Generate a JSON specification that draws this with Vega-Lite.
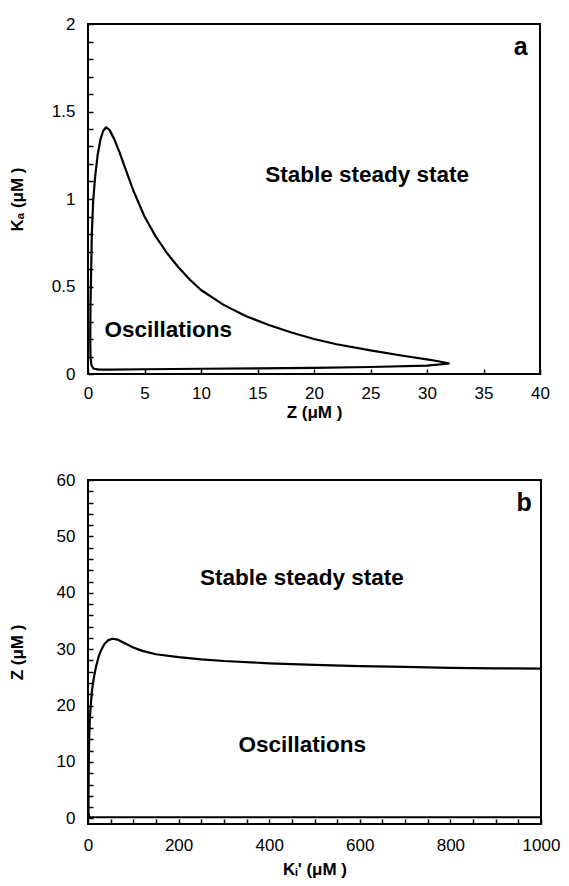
{
  "$schema": "https://vega.github.io/schema/vega-lite/v6.json",
  "background": "white",
  "padding": {"left": 7, "top": 14, "right": 5, "bottom": 5},
  "spacing": 106,
  "bounds": "flush",
  "datasets": {
    "curveA": [
      {"i": 1, "Z": 32, "KA": 0.06},
      {"i": 2, "Z": 30, "KA": 0.048},
      {"i": 3, "Z": 25, "KA": 0.04},
      {"i": 4, "Z": 20, "KA": 0.035},
      {"i": 5, "Z": 15, "KA": 0.032},
      {"i": 6, "Z": 10, "KA": 0.03},
      {"i": 7, "Z": 5, "KA": 0.027},
      {"i": 8, "Z": 2, "KA": 0.025},
      {"i": 9, "Z": 1, "KA": 0.025},
      {"i": 10, "Z": 0.5, "KA": 0.03},
      {"i": 11, "Z": 0.3, "KA": 0.05},
      {"i": 12, "Z": 0.22, "KA": 0.1},
      {"i": 13, "Z": 0.2, "KA": 0.2},
      {"i": 14, "Z": 0.22, "KA": 0.4},
      {"i": 15, "Z": 0.28, "KA": 0.6},
      {"i": 16, "Z": 0.34, "KA": 0.8},
      {"i": 17, "Z": 0.45, "KA": 0.98},
      {"i": 18, "Z": 0.62, "KA": 1.12},
      {"i": 19, "Z": 0.85, "KA": 1.25},
      {"i": 20, "Z": 1.1, "KA": 1.34},
      {"i": 21, "Z": 1.35, "KA": 1.39},
      {"i": 22, "Z": 1.6, "KA": 1.41},
      {"i": 23, "Z": 1.9, "KA": 1.395},
      {"i": 24, "Z": 2.3, "KA": 1.345},
      {"i": 25, "Z": 2.8, "KA": 1.265},
      {"i": 26, "Z": 3.3, "KA": 1.175},
      {"i": 27, "Z": 4, "KA": 1.05},
      {"i": 28, "Z": 5, "KA": 0.9},
      {"i": 29, "Z": 6, "KA": 0.785},
      {"i": 30, "Z": 7, "KA": 0.69},
      {"i": 31, "Z": 8, "KA": 0.61},
      {"i": 32, "Z": 9, "KA": 0.54},
      {"i": 33, "Z": 10, "KA": 0.48},
      {"i": 34, "Z": 12, "KA": 0.395},
      {"i": 35, "Z": 14, "KA": 0.33},
      {"i": 36, "Z": 16, "KA": 0.28},
      {"i": 37, "Z": 18, "KA": 0.237},
      {"i": 38, "Z": 20, "KA": 0.2},
      {"i": 39, "Z": 22, "KA": 0.17},
      {"i": 40, "Z": 25, "KA": 0.135},
      {"i": 41, "Z": 28, "KA": 0.103},
      {"i": 42, "Z": 30, "KA": 0.084},
      {"i": 43, "Z": 31, "KA": 0.073},
      {"i": 44, "Z": 32, "KA": 0.06}
    ],
    "textA": [
      {"Z": 24.7, "KA": 1.14, "label": "Stable steady state"},
      {"Z": 7.1, "KA": 0.25, "label": "Oscillations"}
    ],
    "tagA": [{"Z": 38.3, "KA": 1.87, "label": "a"}],
    "curveB": [
      {"i": 1, "K": 1000, "Z": 0.2},
      {"i": 2, "K": 500, "Z": 0.2},
      {"i": 3, "K": 20, "Z": 0.2},
      {"i": 4, "K": 3, "Z": 0.2},
      {"i": 5, "K": 1, "Z": 1},
      {"i": 6, "K": 1.2, "Z": 5},
      {"i": 7, "K": 1.8, "Z": 10},
      {"i": 8, "K": 2.5, "Z": 14},
      {"i": 9, "K": 4, "Z": 17.5},
      {"i": 10, "K": 6, "Z": 20},
      {"i": 11, "K": 9, "Z": 22.8},
      {"i": 12, "K": 13, "Z": 25},
      {"i": 13, "K": 18, "Z": 27},
      {"i": 14, "K": 24, "Z": 28.8},
      {"i": 15, "K": 30, "Z": 30},
      {"i": 16, "K": 37, "Z": 31},
      {"i": 17, "K": 45, "Z": 31.6},
      {"i": 18, "K": 54, "Z": 31.85},
      {"i": 19, "K": 65, "Z": 31.7},
      {"i": 20, "K": 80, "Z": 31.1},
      {"i": 21, "K": 100, "Z": 30.3},
      {"i": 22, "K": 120, "Z": 29.7},
      {"i": 23, "K": 150, "Z": 29.1},
      {"i": 24, "K": 200, "Z": 28.6},
      {"i": 25, "K": 250, "Z": 28.2},
      {"i": 26, "K": 300, "Z": 27.9},
      {"i": 27, "K": 400, "Z": 27.5},
      {"i": 28, "K": 500, "Z": 27.2},
      {"i": 29, "K": 600, "Z": 27.0},
      {"i": 30, "K": 700, "Z": 26.85},
      {"i": 31, "K": 800, "Z": 26.7},
      {"i": 32, "K": 900, "Z": 26.6},
      {"i": 33, "K": 1000, "Z": 26.55}
    ],
    "textB": [
      {"K": 472, "Z": 42.6, "label": "Stable steady state"},
      {"K": 473, "Z": 13.0, "label": "Oscillations"}
    ],
    "tagB": [{"K": 963, "Z": 56, "label": "b"}]
  },
  "vconcat": [
    {
      "width": 452,
      "height": 350,
      "encoding": {
        "x": {
          "field": "Z", "type": "quantitative",
          "scale": {"domain": [0, 40], "nice": false, "zero": false},
          "axis": {"title": "Z (μM )", "values": [0, 5, 10, 15, 20, 25, 30, 35, 40], "labelPadding": 16, "titlePadding": 3}
        },
        "y": {
          "field": "KA", "type": "quantitative",
          "scale": {"domain": [0, 2], "nice": false, "zero": false},
          "axis": {
            "title": "Kₐ (μM )",
            "values": [0, 0.1, 0.2, 0.3, 0.4, 0.5, 0.6, 0.7, 0.8, 0.9, 1, 1.1, 1.2, 1.3, 1.4, 1.5, 1.6, 1.7, 1.8, 1.9, 2],
            "labelExpr": "abs(datum.value*2 - round(datum.value*2)) < 0.001 ? format(datum.value, '~g') : ''",
            "labelPadding": 18,
            "titlePadding": 25
          }
        }
      },
      "layer": [
        {
          "data": {"name": "curveA"},
          "mark": {"type": "line", "color": "black", "strokeWidth": 2.2, "strokeJoin": "round"},
          "encoding": {"order": {"field": "i", "type": "quantitative"}}
        },
        {
          "data": {"name": "textA"},
          "mark": {"type": "text", "font": "Liberation Sans", "fontWeight": "bold", "fontSize": 22.5, "color": "black", "align": "center", "baseline": "middle"},
          "encoding": {"text": {"field": "label"}}
        },
        {
          "data": {"name": "tagA"},
          "mark": {"type": "text", "font": "Liberation Sans", "fontWeight": "bold", "fontSize": 25, "color": "black", "align": "center", "baseline": "middle"},
          "encoding": {"text": {"field": "label"}}
        }
      ]
    },
    {
      "width": 453,
      "height": 344,
      "encoding": {
        "x": {
          "field": "K", "type": "quantitative",
          "scale": {"domain": [0, 1000], "nice": false, "zero": false},
          "axis": {
            "title": "Kᵢ' (μM )",
            "values": [0, 50, 100, 150, 200, 250, 300, 350, 400, 450, 500, 550, 600, 650, 700, 750, 800, 850, 900, 950, 1000],
            "labelExpr": "datum.value % 200 === 0 ? format(datum.value, 'd') : ''",
            "labelPadding": 18,
            "titlePadding": 8
          }
        },
        "y": {
          "field": "Z", "type": "quantitative",
          "scale": {"domain": [-1, 60], "nice": false, "zero": false},
          "axis": {
            "title": "Z (μM )",
            "values": [0, 2, 4, 6, 8, 10, 12, 14, 16, 18, 20, 22, 24, 26, 28, 30, 32, 34, 36, 38, 40, 42, 44, 46, 48, 50, 52, 54, 56, 58, 60],
            "labelExpr": "datum.value % 10 === 0 ? format(datum.value, 'd') : ''",
            "labelPadding": 18,
            "titlePadding": 30
          }
        }
      },
      "layer": [
        {
          "data": {"name": "curveB"},
          "mark": {"type": "line", "color": "black", "strokeWidth": 2.2, "strokeJoin": "round"},
          "encoding": {"order": {"field": "i", "type": "quantitative"}}
        },
        {
          "data": {"name": "textB"},
          "mark": {"type": "text", "font": "Liberation Sans", "fontWeight": "bold", "fontSize": 22.5, "color": "black", "align": "center", "baseline": "middle"},
          "encoding": {"text": {"field": "label"}}
        },
        {
          "data": {"name": "tagB"},
          "mark": {"type": "text", "font": "Liberation Sans", "fontWeight": "bold", "fontSize": 25, "color": "black", "align": "center", "baseline": "middle"},
          "encoding": {"text": {"field": "label"}}
        }
      ]
    }
  ],
  "config": {
    "font": "Liberation Sans",
    "view": {"stroke": "black", "strokeWidth": 2},
    "axis": {
      "domain": false,
      "grid": false,
      "ticks": true,
      "tickColor": "black",
      "tickWidth": 1.5,
      "tickSize": -5,
      "labelFont": "Liberation Sans",
      "labelFontSize": 17,
      "labelColor": "black",
      "labelFlush": false,
      "labelOverlap": false,
      "titleFont": "Liberation Sans",
      "titleFontSize": 17,
      "titleFontWeight": "bold",
      "titleColor": "black"
    }
  }
}
